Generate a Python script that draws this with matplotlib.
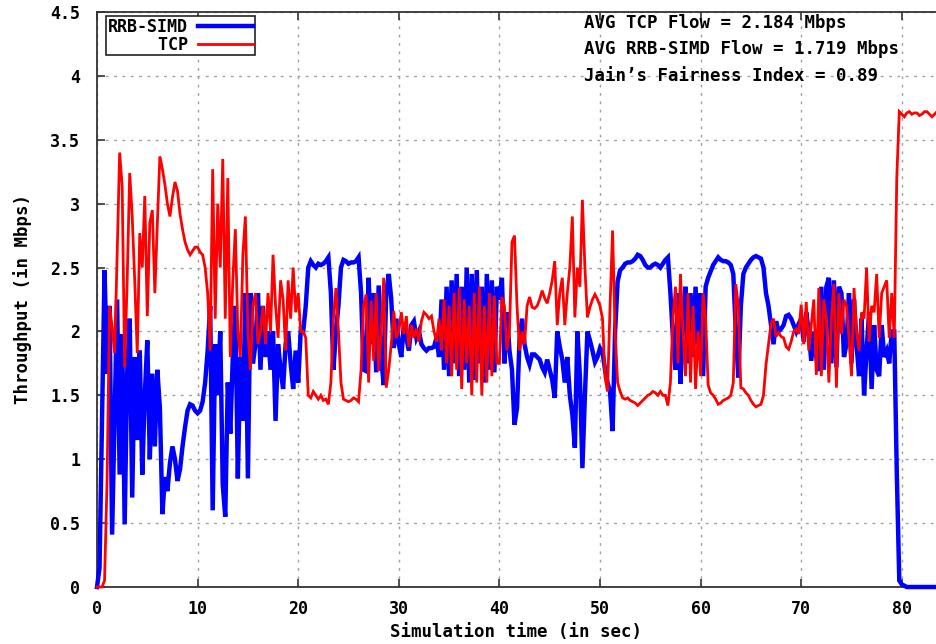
import matplotlib
matplotlib.use("Agg")
import matplotlib.pyplot as plt
import numpy as np
from matplotlib.ticker import FormatStrFormatter, MultipleLocator


# throughput samples, one every 0.25 s starting at t = 0
SAMPLE_STEP = 0.25

tcp = [
    # 0 - 10 s
    0, 0, 0, 0.05, 0.83, 2.2, 2.04, 1.83, 2.59, 3.4,
    3.14, 1.72, 2.4, 3.24, 2.9, 2.4, 1.83, 2.77, 2.5, 3.06,
    2.12, 2.85, 2.95, 2.3, 2.85, 3.37, 3.27, 3.15, 3.0, 2.9,
    3.05, 3.17, 3.1, 2.92, 2.8, 2.7, 2.64, 2.6, 2.63, 2.66,
    # 10 - 20 s
    2.66, 2.62, 2.6, 2.5, 2.3, 1.85, 3.27, 2.1, 3.0, 2.5,
    3.35, 2.1, 3.2, 1.8, 2.4, 2.8, 2.0, 1.8, 2.6, 2.9,
    2.0, 1.7, 2.2, 2.3, 1.9, 2.0, 2.2, 1.9, 2.3, 2.0,
    2.6, 2.2, 1.95, 2.4, 2.25, 1.85, 2.4, 2.1, 2.5, 2.15,
    # 20 - 30 s
    2.3, 2.0, 2.0, 1.95, 1.5, 1.48, 1.53, 1.5, 1.47, 1.5,
    1.46, 1.47, 1.43, 1.6, 2.1, 2.34, 2.0, 1.6, 1.47, 1.46,
    1.45, 1.46, 1.48, 1.47, 1.45, 1.7, 2.2, 2.29, 1.6, 2.24,
    1.77, 2.3, 1.69, 2.0, 2.42, 1.56, 1.7, 1.9, 2.16, 1.95,
    # 30 - 40 s
    2.0, 2.15, 1.98, 2.12, 1.88, 2.05, 1.95, 2.02, 1.92, 2.08,
    2.15, 2.13, 2.1, 2.12, 2.0, 1.92, 2.1, 1.85, 2.25, 1.75,
    2.2, 1.65, 2.3, 1.7, 2.34, 1.55, 2.25, 1.75, 2.2, 1.5,
    2.3, 1.6, 2.35, 1.5, 2.2, 1.6, 2.3, 1.65, 2.28, 1.75,
    # 40 - 50 s
    1.75, 2.27, 2.2, 1.85, 2.0, 2.7, 2.75, 2.2, 1.85, 2.0,
    1.9, 2.2, 2.27, 2.19, 2.18, 2.2, 2.25, 2.32, 2.26, 2.22,
    2.3, 2.4, 2.55, 2.05, 2.3, 2.42, 2.05, 2.3, 2.5, 2.9,
    2.11, 2.5, 2.35, 3.03, 2.5, 2.11, 2.19, 2.25, 2.29, 2.25,
    # 50 - 60 s
    2.2, 2.1, 1.64, 1.53, 2.2, 2.79, 2.0, 1.6, 1.53, 1.48,
    1.47, 1.48, 1.46, 1.45, 1.44, 1.42, 1.44, 1.46, 1.48, 1.5,
    1.51, 1.53, 1.52, 1.5, 1.53, 1.5, 1.5, 1.42, 1.6, 2.1,
    2.35, 1.75, 2.45, 2.0, 1.65, 2.3, 1.6, 2.2, 1.55, 2.0,
    # 60 - 70 s
    1.65, 2.3, 2.1, 1.58, 1.52, 1.5, 1.47, 1.43, 1.44, 1.46,
    1.47, 1.48, 1.5, 1.6, 2.37, 2.2, 1.56, 1.55, 1.52, 1.5,
    1.46, 1.43, 1.41, 1.42, 1.43, 1.5, 1.74, 1.9, 2.06, 2.1,
    1.96, 1.99, 1.96, 1.95, 1.88, 1.86, 1.92, 2.0, 2.02, 1.98,
    # 70 - 80 s
    2.21, 1.9, 2.23, 1.85, 2.05, 2.25, 1.66, 2.34, 1.65, 2.25,
    2.1, 1.6, 2.1, 2.37, 1.56, 2.3, 1.98, 2.25, 2.2, 1.95,
    1.65, 2.34, 2.0, 1.85, 2.15, 2.1, 2.5, 1.92, 2.2, 2.15,
    2.45, 1.95, 2.3, 2.35, 2.4, 1.95, 2.3, 1.95, 3.2, 3.72,
    # 80 - 84 s
    3.7, 3.68, 3.71, 3.72, 3.7, 3.71, 3.71, 3.69, 3.7, 3.72,
    3.72, 3.7, 3.68, 3.7, 3.72, 3.72,
]

rrb_simd = [
    # 0 - 10 s
    0, 0.15, 1.3, 2.48, 1.67, 2.2, 0.41, 1.33, 2.25, 0.88,
    1.98, 0.49, 1.67, 2.1, 0.7, 1.8, 1.15, 1.85, 0.88, 1.5,
    1.93, 1.0, 1.67, 1.1, 1.7, 1.4, 0.57, 0.86, 0.75, 0.97,
    1.1, 1.0, 0.83, 0.92, 1.1, 1.25, 1.38, 1.43, 1.42, 1.38,
    # 10 - 20 s
    1.36, 1.38, 1.45, 1.6, 1.85, 2.2, 0.6, 1.9, 1.5, 2.0,
    0.8, 0.55, 1.6, 1.2, 1.8, 2.2, 0.85, 1.8, 1.3, 2.3,
    0.85, 2.3, 1.75, 1.9, 2.3, 1.7, 2.2, 1.8, 2.0, 1.7,
    2.0, 1.3, 1.9, 1.7, 1.55, 1.9, 2.0, 1.75, 1.55, 1.85,
    # 20 - 30 s
    1.6, 2.0, 2.0, 2.2, 2.5, 2.55, 2.52, 2.5, 2.53, 2.52,
    2.53, 2.55, 2.58, 2.3, 1.7, 2.0, 2.2, 2.5, 2.56, 2.55,
    2.53, 2.54, 2.54, 2.55, 2.58, 2.3, 1.7, 1.69, 2.42, 1.9,
    2.3, 1.68, 2.36, 1.8, 1.58, 2.3, 2.45, 2.25, 1.87, 2.1,
    # 30 - 40 s
    1.9, 1.8, 2.05, 1.95, 1.85, 2.05, 2.08, 1.95, 2.0, 1.9,
    1.87, 1.85, 1.87, 1.87, 1.88, 1.95, 1.8, 2.25, 1.7, 2.35,
    1.65, 2.4, 1.75, 2.45, 1.65, 2.35, 1.7, 2.5, 1.6, 2.45,
    1.62, 2.48, 1.75, 2.35, 1.6, 2.45, 1.7, 2.4, 1.68, 2.35,
    # 40 - 50 s
    2.25, 2.42, 1.75, 2.15, 1.85, 1.7, 1.27, 1.4, 1.93, 2.1,
    1.9, 1.8, 1.74, 1.82, 1.82, 1.8, 1.78, 1.72, 1.68, 1.78,
    1.7, 1.62, 1.48, 2.0, 1.88, 1.78, 1.6, 1.8, 1.5, 1.35,
    1.09, 2.0, 1.65, 0.93, 1.5, 2.0, 1.93, 1.85, 1.76, 1.8,
    # 50 - 60 s
    1.87, 1.84, 1.7, 1.6, 1.53, 1.22, 2.0, 2.39, 2.48, 2.5,
    2.53, 2.54, 2.54, 2.55, 2.57, 2.6, 2.59, 2.56, 2.52, 2.5,
    2.5, 2.52, 2.53, 2.52, 2.5, 2.53, 2.56, 2.58, 2.3, 1.95,
    1.7, 2.3, 1.59, 2.1, 2.35, 1.75, 2.3, 1.8, 2.35, 1.9,
    # 60 - 70 s
    2.3, 1.65, 2.35, 2.42, 2.47, 2.52, 2.55, 2.58, 2.56, 2.55,
    2.55, 2.54, 2.52, 2.45, 2.0, 1.64, 2.2, 2.45, 2.5, 2.53,
    2.56, 2.58, 2.59, 2.58, 2.57, 2.5, 2.3, 2.2, 2.05, 1.9,
    2.08, 2.0, 2.02, 2.05, 2.12, 2.13, 2.1, 2.05, 2.0, 2.06,
    # 70 - 80 s
    2.1, 1.92, 2.15, 2.0, 1.77, 2.0, 1.8, 1.69, 2.35, 1.7,
    2.35, 2.42, 1.75, 2.4, 1.72, 2.35, 2.3, 1.8, 1.9, 2.3,
    1.75, 2.25, 1.9, 1.65, 2.1, 1.5, 1.85, 2.15, 1.55, 2.05,
    1.7, 1.65, 2.05, 1.8, 1.85, 1.75, 2.0, 2.0, 0.9, 0.05,
    # 80 - 84 s
    0.02, 0.01, 0, 0, 0, 0, 0, 0, 0, 0,
    0, 0, 0, 0, 0, 0,
]

notes = [
    "AVG TCP Flow = 2.184 Mbps",
    "AVG RRB-SIMD Flow = 1.719 Mbps",
    "Jain\u2019s Fairness Index = 0.89",
]

FONT = {"family": "DejaVu Sans Mono", "weight": "bold", "size": 12.5}


def main():
    t = np.arange(len(tcp)) * SAMPLE_STEP

    fig = plt.figure(figsize=(9.36, 6.44), dpi=100)
    ax = fig.add_axes([97 / 936, 57 / 644, 839 / 936, 575 / 644])

    ax.plot(t, rrb_simd, color="#0000ff", lw=3.2, label="RRB-SIMD",
            solid_joinstyle="miter", clip_on=False, zorder=3)
    ax.plot(t, tcp, color="#ff0000", lw=2.0, label="     TCP",
            solid_joinstyle="miter", clip_on=False, zorder=4)

    ax.set_xlim(0, 839 / 10.06)
    ax.set_ylim(0, 4.5)
    ax.xaxis.set_major_locator(MultipleLocator(10))
    ax.yaxis.set_major_locator(MultipleLocator(0.5))
    ax.yaxis.set_major_formatter(FormatStrFormatter("%g"))

    ax.grid(True, color="#a0a0a0", lw=1.0, linestyle=(0, (2, 4)))
    ax.set_axisbelow(True)

    for side in ["left", "bottom", "top"]:
        ax.spines[side].set_color("#333333")
        ax.spines[side].set_linewidth(1.3)
    ax.spines["right"].set_visible(False)

    ax.tick_params(direction="in", length=6, width=1.2, color="#333333",
                   top=True, right=False)
    ax.tick_params(axis="x", pad=9)
    ax.tick_params(axis="y", pad=12)
    for lbl in ax.get_xticklabels() + ax.get_yticklabels():
        lbl.set_fontfamily(FONT["family"])
        lbl.set_fontweight("bold")
        lbl.set_fontsize(12)

    ax.set_xlabel("Simulation time (in sec)", fontdict=FONT)
    ax.set_ylabel("Throughput (in Mbps)", fontdict=FONT)
    ax.xaxis.set_label_coords(0.5, -0.062)
    ax.yaxis.set_label_coords(-0.078, 0.5)

    for k, note in enumerate(notes):
        ax.text(48.4, 4.415 - 0.207 * k, note, ha="left", va="center",
                fontdict=FONT, zorder=5)

    leg = ax.legend(loc="upper left", bbox_to_anchor=(0.011, 0.993),
                    borderaxespad=0, markerfirst=False, handlelength=3.3,
                    handletextpad=0.6, labelspacing=0.0, borderpad=0.1,
                    fancybox=False, framealpha=1, edgecolor="#222222",
                    prop={"family": FONT["family"], "weight": "bold", "size": 12})
    leg.get_frame().set_linewidth(1.2)

    fig.savefig("out.png", dpi=100)
    plt.close(fig)


if __name__ == "__main__":
    main()
